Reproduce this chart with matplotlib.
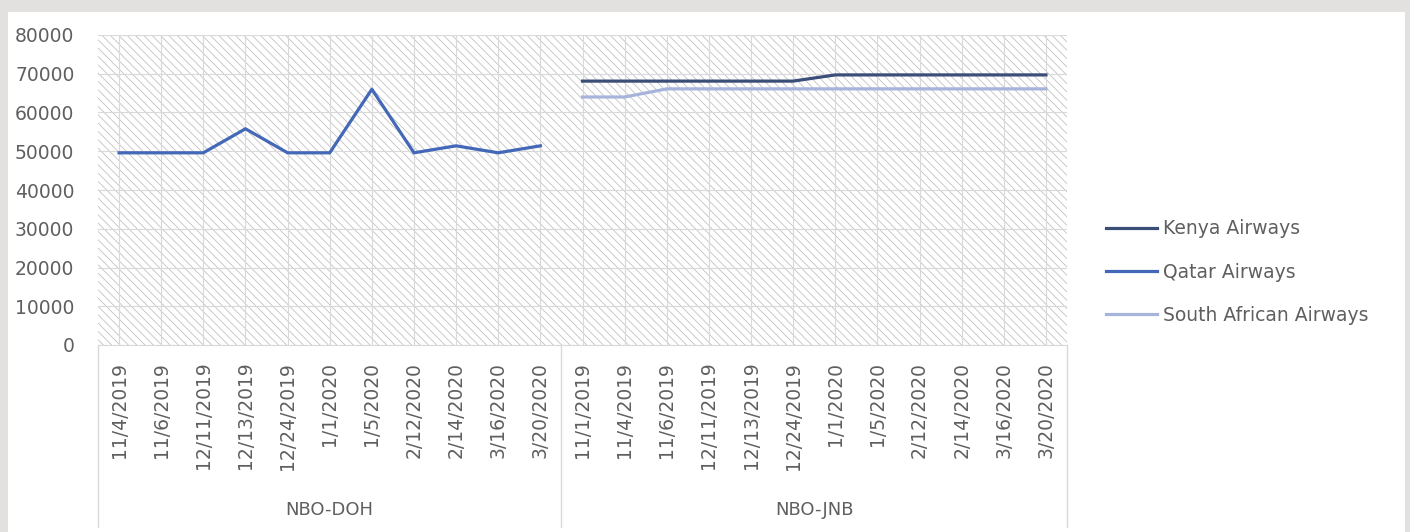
import matplotlib
matplotlib.use("Agg")
import matplotlib.pyplot as plt
import matplotlib.transforms as mtransforms
from matplotlib.patches import Rectangle
import numpy as np

# Data (price per route and travel date)
routes = ["NBO-DOH", "NBO-JNB"]
doh_dates = ["11/4/2019", "11/6/2019", "12/11/2019", "12/13/2019", "12/24/2019",
             "1/1/2020", "1/5/2020", "2/12/2020", "2/14/2020", "3/16/2020", "3/20/2020"]
jnb_dates = ["11/1/2019", "11/4/2019", "11/6/2019", "12/11/2019", "12/13/2019", "12/24/2019",
             "1/1/2020", "1/5/2020", "2/12/2020", "2/14/2020", "3/16/2020", "3/20/2020"]
qatar_doh = [49600, 49600, 49600, 55800, 49600, 49600, 66000, 49600, 51400, 49600, 51400]
kenya_jnb = [68100, 68100, 68100, 68100, 68100, 68100, 69700, 69700, 69700, 69700, 69700, 69700]
saa_jnb = [64000, 64000, 66100, 66100, 66100, 66100, 66100, 66100, 66100, 66100, 66100, 66100]

n_doh = len(doh_dates)
n_jnb = len(jnb_dates)
labels = doh_dates + jnb_dates
x = np.arange(n_doh + n_jnb)
nan_doh = [np.nan] * n_doh
nan_jnb = [np.nan] * n_jnb
kenya = np.array(nan_doh + kenya_jnb)
qatar = np.array(qatar_doh + nan_jnb)
saa = np.array(nan_doh + saa_jnb)

text_col = "#5f5f5f"
grid_col = "#d9d9d9"
plt.rcParams["hatch.linewidth"] = 0.55

fig = plt.figure(figsize=(14.10, 5.32), dpi=100, facecolor="#e3e0e0")
# white chart area
fig.add_artist(Rectangle((8 / 1410, 0), 1397 / 1410, 520 / 532, transform=fig.transFigure,
                         facecolor="white", edgecolor="none", zorder=-5))

ax = fig.add_axes([98 / 1410, 187 / 532, 969 / 1410, 310 / 532])
ax.set_facecolor("none")
ax.add_patch(Rectangle((0, 0), 1, 1, transform=ax.transAxes, facecolor="white",
                       edgecolor="#bdbdbd", hatch="\\\\\\\\", linewidth=0, zorder=-3))

ax.plot(x, kenya, color="#3B4E78", lw=2.3, label="Kenya Airways", zorder=3)
ax.plot(x, qatar, color="#4468B8", lw=2.3, label="Qatar Airways", zorder=3)
ax.plot(x, saa, color="#A6B4DC", lw=2.3, label="South African Airways", zorder=3)

ax.set_xlim(-0.5, len(x) - 0.5)
ax.set_ylim(0, 80000)
ax.set_yticks(np.arange(0, 80001, 10000))
ax.set_xticks(x)
ax.set_xticklabels(labels, rotation=90)
ax.tick_params(axis="y", length=0, pad=17, labelsize=13.5, labelcolor=text_col)
ax.tick_params(axis="x", length=0, pad=12, labelsize=13.5, labelcolor=text_col)
ax.grid(True, color=grid_col, lw=0.8, zorder=0)
ax.set_axisbelow(True)
for s in ["top", "left", "right"]:
    ax.spines[s].set_visible(False)
ax.spines["bottom"].set_color(grid_col)

# multi-level category axis
trans = mtransforms.blended_transform_factory(ax.transData, ax.transAxes)
for sep in [-0.5, n_doh - 0.5, len(x) - 0.5]:
    ax.plot([sep, sep], [0, -182 / 310], color=grid_col, lw=1, transform=trans, clip_on=False)
centers = [(n_doh - 1) / 2, n_doh + (n_jnb - 1) / 2]
for c, r in zip(centers, routes):
    ax.text(c, -165 / 310, r, transform=trans, ha="center", va="center",
            fontsize=13, color=text_col)

fig.legend(loc="center left", bbox_to_anchor=(1106 / 1410, 1 - 272 / 532), frameon=False,
           fontsize=13.5, labelcolor=text_col, handlelength=2.7, handletextpad=0.35,
           labelspacing=1.3, borderpad=0, borderaxespad=0)

fig.savefig("out.png", dpi=100, facecolor=fig.get_facecolor())
